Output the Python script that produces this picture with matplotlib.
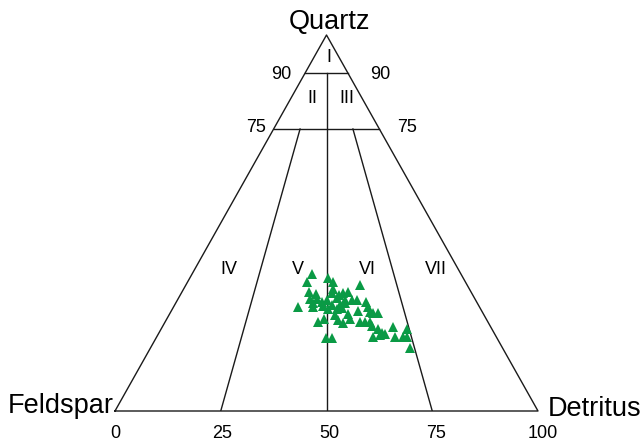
import matplotlib
matplotlib.use("Agg")
import matplotlib.pyplot as plt

plt.rcParams['font.family'] = ['Liberation Sans', 'DejaVu Sans']

# Sample compositions (percent): Quartz and Detritus; Feldspar = 100 - Q - D
quartz = [36.4, 35.3, 34.2, 34.2, 33.5, 31.7, 31.0, 32.4, 31.3, 31.3,
          31.6, 30.9, 29.7, 29.7, 28.8, 29.1, 29.5, 30.0, 29.5, 29.5,
          29.5, 28.9, 27.6, 27.7, 27.9, 28.2, 28.2, 28.6, 27.0, 27.0,
          27.3, 26.7, 27.7, 26.4, 26.0, 25.8, 26.0, 25.5, 24.4, 23.6,
          24.2, 24.4, 23.3, 23.8, 23.8, 23.8, 22.6, 21.7, 20.5, 22.4,
          21.8, 19.6, 20.2, 19.6, 19.6, 19.8, 16.7, 19.5, 19.5, 20.7]
detritus = [28.3, 32.6, 28.4, 34.5, 41.2, 30.1, 31.9, 35.4, 35.6, 38.3,
            39.2, 37.4, 31.3, 32.8, 32.5, 34.3, 35.3, 37.4, 39.6, 41.2,
            42.4, 45.0, 29.4, 33.0, 35.3, 37.1, 39.1, 40.1, 36.9, 38.9,
            39.9, 44.2, 46.0, 47.1, 49.2, 42.3, 48.1, 39.2, 37.3, 36.1,
            40.7, 43.4, 42.3, 46.0, 47.2, 48.4, 49.4, 51.4, 53.6, 54.6,
            58.1, 51.3, 52.5, 56.4, 58.4, 59.2, 61.3, 40.2, 41.5, 52.7]

vertex_labels = ["Quartz", "Feldspar", "Detritus"]
base_ticks = [0, 25, 50, 75, 100]
q_levels = [90, 75]
field_labels = ["I", "II", "III", "IV", "V", "VI", "VII"]

W, H = 642, 441
fig = plt.figure(figsize=(W / 100, H / 100), dpi=100)
ax = fig.add_axes([115 / W, 30 / H, 423 / W, 376 / H])
ax.set_xlim(0, 1)
ax.set_ylim(0, 1)
ax.axis('off')


def xy(q, r):
    """q = quartz fraction, r = D/(F+D) ratio -> axes coords"""
    d = r * (1 - q)
    return d + q / 2, q


lc = '#1a1a1a'
lw = 1.0
# triangle
tri = [xy(0, 0), xy(0, 1), xy(1, 0), xy(0, 0)]
ax.plot([p[0] for p in tri], [p[1] for p in tri], color=lc, lw=lw, clip_on=False)
# horizontal Q lines
for ql in q_levels:
    a, b = xy(ql / 100, 0), xy(ql / 100, 1)
    ax.plot([a[0], b[0]], [a[1], b[1]], color=lc, lw=lw)
# vertical line from Q=90 to base
a, b = xy(0.9, 0.5), xy(0, 0.5)
ax.plot([a[0], b[0]], [a[1], b[1]], color=lc, lw=lw)
# lines from Q=75 to base at 25 / 75
for r in (0.25, 0.75):
    a, b = xy(0.75, r), xy(0, r)
    ax.plot([a[0], b[0]], [a[1], b[1]], color=lc, lw=lw)

# data points
px, py = [], []
for q, d in zip(quartz, detritus):
    px.append(d / 100 + q / 200)
    py.append(q / 100)
ax.plot(px, py, linestyle='none', marker='^', ms=6.5, color='#0a9a45',
        markeredgewidth=0, clip_on=False)

fs_small = 13
tk = dict(transform=ax.transData, fontsize=fs_small, ha='center', va='center',
          clip_on=False, color='black')
# Q level labels
ax.text(0.392, 0.896, str(q_levels[0]), **tk)
ax.text(0.628, 0.896, str(q_levels[0]), **tk)
ax.text(0.333, 0.753, str(q_levels[1]), **tk)
ax.text(0.691, 0.753, str(q_levels[1]), **tk)
# field labels
fpos = [(0.505, 0.94), (0.466, 0.832), (0.548, 0.832), (0.270, 0.375),
        (0.433, 0.375), (0.596, 0.375), (0.759, 0.375)]
for lab, (x, y) in zip(field_labels, fpos):
    ax.text(x, y, lab, **tk)
# base ticks
for t in base_ticks:
    ax.text(t / 100 * 1.012, -0.061, str(t), **tk)

# vertex labels
ax.text(0.507, 1.0 + 13.5 / 376, vertex_labels[0], transform=ax.transData,
        fontsize=19.5, ha='center', va='center', clip_on=False)
ax.text(-0.004, -0.005, vertex_labels[1], transform=ax.transData,
        fontsize=19.5, ha='right', va='baseline', clip_on=False)
ax.text(1.024, -0.013, vertex_labels[2], transform=ax.transData,
        fontsize=19.5, ha='left', va='baseline', clip_on=False)

fig.savefig("out.png", dpi=100)
